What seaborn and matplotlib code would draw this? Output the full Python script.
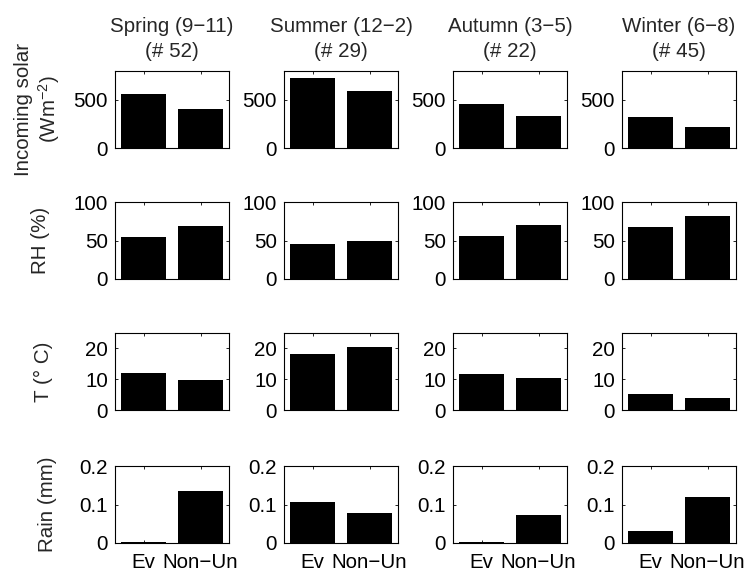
import matplotlib
matplotlib.use("Agg")
import matplotlib.pyplot as plt
import seaborn as sns
import pandas as pd

# ---- data ----
seasons = ["Spring (9\u221211)", "Summer (12\u22122)", "Autumn (3\u22125)", "Winter (6\u22128)"]
counts = [52, 29, 22, 45]
groups = ["Ev", "Non\u2212Un"]

solar_ev = [561, 727, 457, 326]
solar_non = [405, 589, 336, 218]
rh_ev = [54, 45, 56, 67.5]
rh_non = [69, 50, 70.5, 82.3]
t_ev = [11.9, 18.2, 11.6, 5.2]
t_non = [9.9, 20.5, 10.3, 4.0]
rain_ev = [0.002, 0.106, 0.0015, 0.030]
rain_non = [0.135, 0.077, 0.074, 0.120]

row_labels = ["Incoming solar\n(Wm$^{-2}$)", "RH (%)", "T (\u00b0 C)", "Rain (mm)"]
row_ev = [solar_ev, rh_ev, t_ev, rain_ev]
row_non = [solar_non, rh_non, t_non, rain_non]
row_ylim = [(0, 800), (0, 100), (0, 25), (0, 0.2)]
row_ticks = [[0, 500], [0, 50, 100], [0, 10, 20], [0, 0.1, 0.2]]
row_ticklabels = [["0", "500"], ["0", "50", "100"], ["0", "10", "20"], ["0", "0.1", "0.2"]]

# ---- style ----
sns.set_style("ticks")
plt.rcParams["font.family"] = ["Liberation Sans", "DejaVu Sans"]
plt.rcParams["mathtext.fontset"] = "custom"
plt.rcParams["mathtext.rm"] = "Liberation Sans"
plt.rcParams["mathtext.it"] = "Liberation Sans:italic"
plt.rcParams["mathtext.default"] = "regular"
FS = 14.8

W, H = 750, 575
fig = plt.figure(figsize=(W / 100, H / 100), dpi=100)

col_left = [115, 284, 453, 622]
ax_w = 114
row_top = [71, 202, 333, 466]
ax_h = 77
label_x = [-0.465, -0.57, -0.54, -0.51]

for r in range(4):
    for c in range(4):
        left = col_left[c] / W
        bottom = 1 - (row_top[r] + ax_h) / H
        ax = fig.add_axes([left, bottom, ax_w / W, ax_h / H])
        df = pd.DataFrame({"group": groups, "value": [row_ev[r][c], row_non[r][c]]})
        sns.barplot(data=df, x="group", y="value", ax=ax, color="black",
                    saturation=1, width=0.8, errorbar=None, order=groups)
        for p in ax.patches:
            p.set_edgecolor("none")
        ax.set_xlim(-0.5, 1.5)
        ax.set_ylim(*row_ylim[r])
        ax.set_yticks(row_ticks[r])
        ax.set_yticklabels(row_ticklabels[r], fontsize=FS)
        ax.set_xticks([0, 1])
        if r == 3:
            ax.set_xticklabels(groups, fontsize=FS)
        else:
            ax.set_xticklabels([])
        ax.set_xlabel("")
        ax.set_ylabel("")
        for s in ax.spines.values():
            s.set_visible(True)
            s.set_linewidth(0.8)
            s.set_color("black")
        ax.tick_params(direction="in", length=2.5, width=0.6, pad=5,
                       top=True, right=True, colors="black", labelcolor="black")
        ax.tick_params(axis="x", pad=7)
        if r == 0:
            ax.set_title(f"{seasons[c]}\n(# {counts[c]})", fontsize=FS,
                         pad=10, linespacing=1.4)
        if c == 0:
            ax.set_ylabel(row_labels[r], fontsize=FS, linespacing=1.15)
            ax.yaxis.set_label_coords(label_x[r], 0.5)

fig.savefig("out.png", dpi=100)
